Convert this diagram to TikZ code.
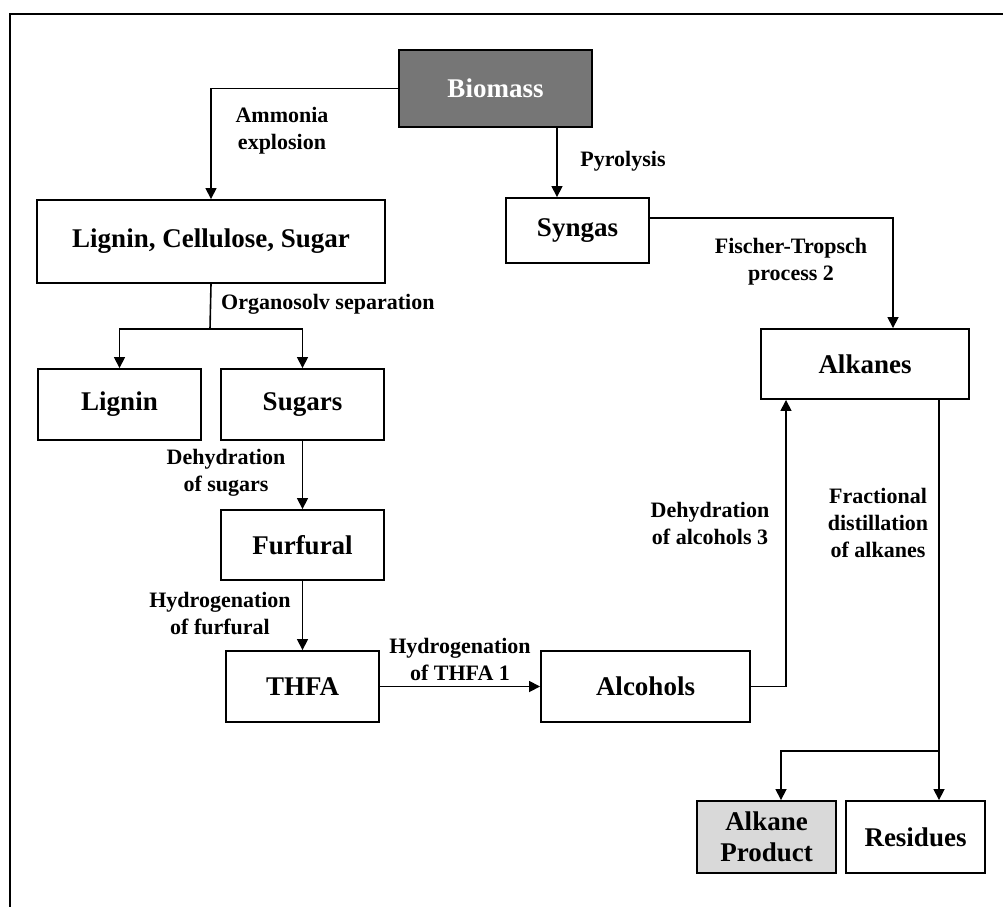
\documentclass[tikz,border=0pt]{standalone}
\usepackage{fontspec}
\setmainfont{Liberation Serif}
\usepackage{xcolor}
\usetikzlibrary{arrows.meta,positioning,calc}

\definecolor{darkbox}{HTML}{767676}
\definecolor{lightbox}{HTML}{D9D9D9}

\begin{document}
\begin{tikzpicture}[x=1pt,y=-1pt,
    box/.style={draw,rectangle,line width=1.9pt,inner sep=0pt,align=center,
        font=\fontsize{27}{31}\selectfont\bfseries},
    lbl/.style={align=center,inner sep=0pt,font=\fontsize{22}{27}\selectfont\bfseries},
    flow/.style={->,line width=1.6pt},
    >={Triangle[width=11pt,length=11pt]}]
    \useasboundingbox (0,0) rectangle (1003,906);
    \draw[line width=2.2pt] (10,907) -- (10,14) -- (1004,14);

    \node[box,fill=darkbox,text=white,minimum width=193pt,minimum height=77pt] (biomass) at (495.5,88.5) {Biomass};
    \node[box,minimum width=348pt,minimum height=83pt] (lcs) at (211,241.5) {Lignin, Cellulose, Sugar};
    \node[box,minimum width=143pt,minimum height=65pt] (syngas) at (577.5,230.5) {Syngas};
    \node[box,minimum width=163pt,minimum height=71pt] (lignin) at (119.5,404.5) {Lignin};
    \node[box,minimum width=163pt,minimum height=71pt] (sugars) at (302.5,404.5) {Sugars};
    \node[box,minimum width=163pt,minimum height=70pt] (furfural) at (302.5,545) {Furfural};
    \node[box,minimum width=153pt,minimum height=71pt] (thfa) at (302.5,686.5) {THFA};
    \node[box,minimum width=209pt,minimum height=71pt] (alcohols) at (645.5,686.5) {Alcohols};
    \node[box,minimum width=208pt,minimum height=70pt] (alkanes) at (865,364) {Alkanes};
    \node[box,fill=lightbox,minimum width=139pt,minimum height=72pt] (product) at (766.5,837) {Alkane\\Product};
    \node[box,minimum width=139pt,minimum height=72pt] (residues) at (915.5,837) {Residues};

    % helper points where the lines leave or enter off-centre
    \coordinate (pyro) at (557,0);
    \coordinate (ft) at (893,218);
    \coordinate (split) at (210,329);
    \coordinate (dehyd) at (786,0);
    \coordinate (frac) at (939,751);
    \coordinate (prod) at (781,0);

    \draw[flow] (biomass.west) -| (lcs.north);
    \draw[flow] (biomass.south -| pyro) -- (syngas.north -| pyro);
    \draw[flow] (syngas.east |- ft) -| (alkanes.north -| ft);
    \draw[line width=1.6pt] (lcs.south) -- (split);
    \draw[flow] (split) -| (lignin.north);
    \draw[flow] (split) -| (sugars.north);
    \draw[flow] (sugars) -- (furfural);
    \draw[flow] (furfural) -- (thfa);
    \draw[flow] (thfa) -- (alcohols);
    \draw[flow] (alcohols.east) -| (alkanes.south -| dehyd);
    \draw[flow] (alkanes.south -| frac) -- (residues.north -| frac);
    \draw[flow] (frac) -| (product.north -| prod);

    \node[lbl] (l1) at (282,131) {Ammonia\\explosion};
    \node[lbl] (l2) at (623,161) {Pyrolysis};
    \node[lbl] (l3) at (791,262) {Fischer-Tropsch\\process 2};
    \node[lbl,anchor=west] (l4) at (221,304) {Organosolv separation};
    \node[lbl] (l5) at (226,473) {Dehydration\\of sugars};
    \node[lbl] (l6) at (220,613) {Hydrogenation\\of furfural};
    \node[lbl] (l7) at (460,659) {Hydrogenation\\of THFA 1};
    \node[lbl] (l8) at (710,523) {Dehydration\\of alcohols 3};
    \node[lbl] (l9) at (878,523) {Fractional\\distillation\\of alkanes};
\end{tikzpicture}
\end{document}
